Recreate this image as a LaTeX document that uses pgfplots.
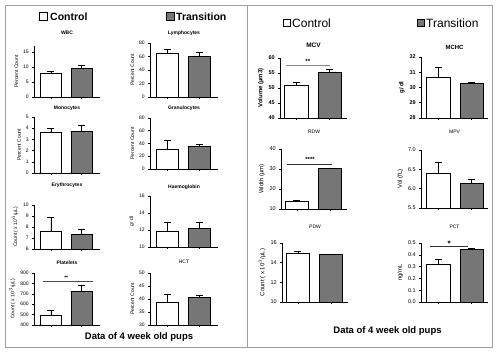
\documentclass[border=0pt]{standalone}
\usepackage{pgfplots}
\pgfplotsset{compat=1.18}
\usepackage{fontspec}
\setmainfont{Liberation Sans}
\definecolor{barg}{RGB}{118,118,118}
\definecolor{framec}{RGB}{160,160,160}
\newcommand{\tf}{\fontsize{5}{6}\selectfont}
\pgfplotsset{
  pan/.style={
    scale only axis,
    axis x line*=bottom, axis y line*=left,
    axis line style={-, line width=0.6pt},
    tick align=outside,
    major tick length=1.8pt,
    tick style={line width=0.5pt, black},
    xtick={1,2}, xticklabels={},
    xmin=0.45, xmax=2.6,
    tick label style={font=\tf},
    /pgf/number format/assume math mode=true,
    ylabel style={font=\tf, yshift=-2pt},
    title style={font=\tf\bfseries, at={(0.5,1)}, anchor=center},
  },
  panR/.style={pan, xmin=0.52, xmax=2.52},
  eb/.style={error bars/.cd, y dir=plus, y explicit, error bar style={line width=0.6pt, black},
    error mark options={rotate=90, mark size=3.5pt, line width=0.6pt, black}},
  cbar/.style={ybar, bar width=0.7, bar shift=0pt, fill=white, draw=black, line width=0.6pt, eb},
  tbar/.style={ybar, bar width=0.7, bar shift=0pt, fill=barg, draw=black, line width=0.6pt, eb},
}
\begin{document}
\begin{tikzpicture}
\path[use as bounding box] (0,0) rectangle (498pt,353pt);
\draw[framec, line width=0.8pt] (5pt,6pt) rectangle (492pt,348pt);
\draw[framec, line width=0.8pt] (247.5pt,6pt) -- (247.5pt,348pt);

% ---- legends
\draw[line width=0.9pt, fill=white] (39pt,332.5pt) rectangle (47pt,340.5pt);
\node[anchor=west, font=\fontsize{10.5}{12}\selectfont\bfseries, inner sep=0pt] at (50pt,336.5pt) {Control};
\draw[line width=0.9pt, fill=barg] (166pt,332.5pt) rectangle (174pt,340.5pt);
\node[anchor=west, font=\fontsize{10.5}{12}\selectfont\bfseries, inner sep=0pt] at (176pt,336.5pt) {Transition};
\draw[line width=0.9pt, fill=white] (283pt,326.5pt) rectangle (290pt,333.5pt);
\node[anchor=west, font=\fontsize{12}{13}\selectfont, inner sep=0pt] at (292pt,330pt) {Control};
\draw[line width=0.9pt, fill=barg] (417pt,326.5pt) rectangle (424pt,333.5pt);
\node[anchor=west, font=\fontsize{12}{13}\selectfont, inner sep=0pt] at (426pt,330pt) {Transition};

\node[font=\fontsize{9.5}{11}\selectfont\bfseries, inner sep=0pt] at (139pt,16pt) {Data of 4 week old pups};
\node[font=\fontsize{9.5}{11}\selectfont\bfseries, inner sep=0pt] at (387.5pt,22pt) {Data of 4 week old pups};

% ---- WBC
\begin{axis}[pan, at={(34pt,256pt)}, anchor=south west, width=66pt, height=51pt,
  ymin=0, ymax=17, ytick={0,5,10,15}, ylabel={Percent Count}, title={WBC}, title style={yshift=7pt}]
\addplot[cbar] coordinates {(1,7.8) +- (0,0.7)};
\addplot[tbar] coordinates {(2,9.7) +- (0,0.7)};
\end{axis}
% ---- Monocytes
\begin{axis}[pan, at={(34pt,180pt)}, anchor=south west, width=66pt, height=56pt,
  ymin=0, ymax=5, ytick={0,1,...,5}, ylabel={Percent Count}, title={Monocytes}, title style={yshift=3pt}]
\addplot[cbar] coordinates {(1,3.6) +- (0,0.35)};
\addplot[tbar] coordinates {(2,3.7) +- (0,0.55)};
\end{axis}
% ---- Lymphocytes
\begin{axis}[pan, at={(150pt,256pt)}, anchor=south west, width=68pt, height=54pt,
  ymin=0, ymax=80, ytick={0,20,...,80}, ylabel={Percent Count}, title={Lymphocytes}, title style={yshift=4pt}]
\addplot[cbar] coordinates {(1,65) +- (0,6)};
\addplot[tbar] coordinates {(2,60) +- (0,6)};
\end{axis}
% ---- Granulocytes
\begin{axis}[pan, at={(150pt,184pt)}, anchor=south west, width=68pt, height=51pt,
  ymin=0, ymax=80, ytick={0,20,...,80}, ylabel={Percent Count}, title={Granulocytes}, title style={yshift=4pt}]
\addplot[cbar] coordinates {(1,31) +- (0,14)};
\addplot[tbar] coordinates {(2,36) +- (0,3)};
\end{axis}
% ---- Erythrocytes
\begin{axis}[pan, at={(34pt,104pt)}, anchor=south west, width=66pt, height=44pt,
  ymin=6, ymax=10, ytick={6,7,...,10}, ylabel={Count ( x 10$^6$/µL)}, title={Erythrocytes}, title style={yshift=14pt}]
\addplot[cbar] coordinates {(1,7.6) +- (0,1.3)};
\addplot[tbar] coordinates {(2,7.35) +- (0,0.45)};
\end{axis}
% ---- Haemoglobin
\begin{axis}[pan, at={(150pt,106pt)}, anchor=south west, width=68pt, height=51pt,
  ymin=10, ymax=16, ytick={10,12,14,16}, ylabel={g/ dl}, title={Haemoglobin}, title style={yshift=3pt}]
\addplot[cbar] coordinates {(1,11.9) +- (0,0.95)};
\addplot[tbar] coordinates {(2,12.25) +- (0,0.65)};
\end{axis}
% ---- Platelets
\begin{axis}[pan, at={(34pt,28pt)}, anchor=south west, width=66pt, height=52pt,
  ymin=400, ymax=900, ytick={400,500,...,900}, ylabel={Count ( x 10$^3$/µL)}, title={Platelets}, title style={yshift=4pt}]
\addplot[cbar] coordinates {(1,495) +- (0,45)};
\addplot[tbar] coordinates {(2,725) +- (0,60)};
\draw[black!70, line width=0.5pt] (axis cs:0.75,825) -- (axis cs:2.36,825);
\node[font=\tf\bfseries] at (axis cs:1.5,858) {**};
\end{axis}
% ---- HCT
\begin{axis}[pan, at={(150pt,28pt)}, anchor=south west, width=68pt, height=52pt,
  ymin=30, ymax=50, ytick={30,35,...,50}, ylabel={Percent Count}, title={HCT}, title style={yshift=5pt, font=\tf}]
\addplot[cbar] coordinates {(1,38.7) +- (0,3.1)};
\addplot[tbar] coordinates {(2,40.6) +- (0,0.8)};
\end{axis}

% ---- MCV
\begin{axis}[panR, at={(280pt,235pt)}, anchor=south west, width=67pt, height=60pt,
  ymin=40, ymax=60, ytick={40,45,...,60}, ylabel={Volume (µm3)}, title={MCV},
  title style={yshift=7pt, font=\fontsize{6.5}{7}\selectfont\bfseries},
  ylabel style={font=\fontsize{6}{7}\selectfont\bfseries}, tick label style={font=\fontsize{5.5}{6}\selectfont\bfseries}]
\addplot[cbar] coordinates {(1,50.8) +- (0,1.0)};
\addplot[tbar] coordinates {(2,55.3) +- (0,1.0)};
\draw[black!45, line width=0.6pt] (axis cs:0.70,57.4) -- (axis cs:2.01,57.4);
\node[font=\fontsize{6}{7}\selectfont\bfseries] at (axis cs:1.35,59) {**};
\end{axis}
% ---- MCHC
\begin{axis}[pan, xmin=0.49, xmax=2.49, at={(421pt,235pt)}, anchor=south west, width=67pt, height=61pt,
  ymin=28, ymax=32, ytick={28,29,...,32}, ylabel={g/ dl}, title={MCHC},
  title style={yshift=4pt, font=\fontsize{6}{7}\selectfont\bfseries},
  ylabel style={font=\fontsize{6}{7}\selectfont\bfseries}, tick label style={font=\fontsize{5.5}{6}\selectfont\bfseries}]
\addplot[cbar] coordinates {(1,30.7) +- (0,0.6)};
\addplot[tbar] coordinates {(2,30.25) +- (0,0.1)};
\end{axis}
% ---- RDW
\begin{axis}[panR, at={(281pt,144pt)}, anchor=south west, width=66pt, height=60pt,
  ymin=10, ymax=40, ytick={10,20,30,40}, ylabel={Width (µm)}, title={RDW},
  title style={yshift=11pt, font=\tf},
  ylabel style={font=\fontsize{6}{7}\selectfont}, tick label style={font=\fontsize{5.5}{6}\selectfont}]
\addplot[cbar] coordinates {(1,13.8) +- (0,0.5)};
\addplot[tbar] coordinates {(2,30.2) +- (0,0.2)};
\draw[black!80, line width=0.6pt] (axis cs:0.70,32.5) -- (axis cs:2.07,32.5);
\node[font=\fontsize{6}{7}\selectfont\bfseries] at (axis cs:1.4,35) {****};
\end{axis}
% ---- MPV
\begin{axis}[pan, xmin=0.49, xmax=2.49, at={(421pt,145pt)}, anchor=south west, width=67pt, height=58pt,
  ymin=5.5, ymax=7.0, ytick={5.5,6.0,6.5,7.0}, yticklabel style={/pgf/number format/.cd, fixed, fixed zerofill, precision=1},
  ylabel={Vol (fL)}, title={MPV},
  title style={yshift=12pt, font=\tf},
  ylabel style={font=\fontsize{6}{7}\selectfont}, tick label style={font=\fontsize{5.5}{6}\selectfont}]
\addplot[cbar] coordinates {(1,6.4) +- (0,0.28)};
\addplot[tbar] coordinates {(2,6.15) +- (0,0.1)};
\end{axis}
% ---- PDW
\begin{axis}[panR, at={(282pt,51pt)}, anchor=south west, width=66pt, height=59pt,
  ymin=10, ymax=16, ytick={10,12,14,16}, ylabel={Count ( x 10$^3$/µL)}, title={PDW},
  title style={yshift=10pt, font=\tf},
  ylabel style={font=\fontsize{6}{7}\selectfont}, tick label style={font=\fontsize{5.5}{6}\selectfont}]
\addplot[cbar] coordinates {(1,15.0) +- (0,0.15)};
\addplot[tbar] coordinates {(2,14.85) +- (0,0.03)};
\end{axis}
% ---- PCT
\begin{axis}[pan, xmin=0.49, xmax=2.49, at={(421pt,51pt)}, anchor=south west, width=67pt, height=59pt,
  clip=false,
  ymin=0, ymax=0.5, ytick={0,0.1,...,0.5}, yticklabel style={/pgf/number format/.cd, fixed, fixed zerofill, precision=1},
  ylabel={ng/mL}, title={PCT},
  title style={yshift=10pt, font=\tf},
  ylabel style={font=\fontsize{6}{7}\selectfont}, tick label style={font=\fontsize{5.5}{6}\selectfont}]
\addplot[cbar] coordinates {(1,0.32) +- (0,0.04)};
\addplot[tbar] coordinates {(2,0.445) +- (0,0.01)};
\draw[black!80, line width=0.6pt] (axis cs:0.76,0.475) -- (axis cs:1.9,0.475);
\node[font=\fontsize{8}{8}\selectfont\bfseries] at (axis cs:1.33,0.497) {*};
\end{axis}
\end{tikzpicture}
\end{document}
